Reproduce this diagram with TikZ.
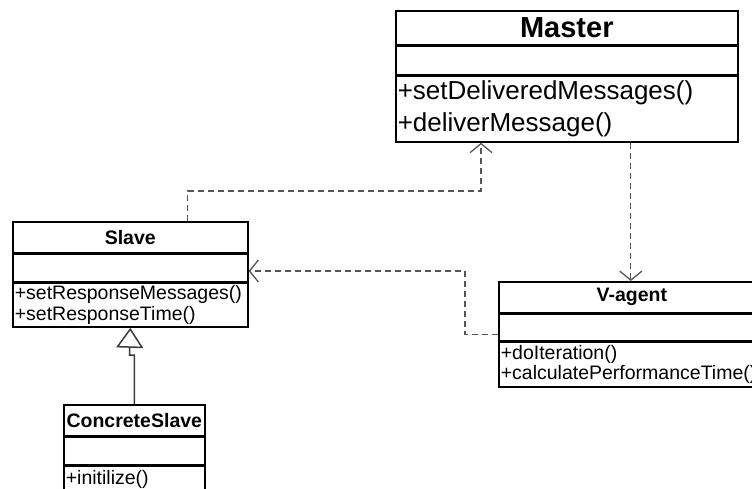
\documentclass[tikz,border=0pt]{standalone}
\usepackage{fontspec}
\setmainfont{Liberation Sans}
\usetikzlibrary{arrows.meta,positioning}
\definecolor{umlLine}{HTML}{555555}

\begin{document}
\begin{tikzpicture}[x=1pt,y=-1pt,>={Straight Barb[length=9pt,width=22pt]},
  part/.style={draw,line width=1.6pt,inner sep=0pt,anchor=north west},
  small/.style={font=\fontsize{19.5}{20.5}\selectfont},
  ttl/.style={part,font=\bfseries\fontsize{19.5}{20.5}\selectfont},
  ops/.style={part,inner xsep=2pt,align=left},
  dep/.style={->,dash pattern=on 6pt off 4pt,line width=1.3pt,umlLine},
  gen/.style={-{Triangle[open,length=20pt,width=27pt,line width=1.5pt]},line width=1.5pt,umlLine!70!black}]
\useasboundingbox (0,0) rectangle (752,489);

% Master
\node[part,font=\bfseries\fontsize{29}{30}\selectfont,minimum width=342pt,minimum height=34pt] (masterTitle) at (395,10) {Master};
\node[part,minimum width=342pt,minimum height=28pt] (masterAttr) at (masterTitle.south west) {};
\node[ops,font=\fontsize{26}{32}\selectfont,text width=338pt,minimum height=66pt] (masterOps) at (masterAttr.south west) {+setDeliveredMessages()\\+deliverMessage()};

% Slave
\node[ttl,minimum width=235pt,minimum height=31pt] (slaveTitle) at (12,221) {Slave};
\node[part,minimum width=235pt,minimum height=27pt] (slaveAttr) at (slaveTitle.south west) {};
\node[ops,small,text width=231pt,minimum height=44pt] (slaveOps) at (slaveAttr.south west) {+setResponseMessages()\\+setResponseTime()};

% V-agent
\node[ttl,minimum width=266pt,minimum height=31pt] (vagentTitle) at (498,281) {V-agent};
\node[part,minimum width=266pt,minimum height=26pt] (vagentAttr) at (vagentTitle.south west) {};
\node[ops,small,text width=262pt,minimum height=45pt] (vagentOps) at (vagentAttr.south west) {+doIteration()\\+calculatePerformanceTime()};

% ConcreteSlave
\node[ttl,minimum width=141pt,minimum height=31pt] (cslaveTitle) at (63,404) {ConcreteSlave};
\node[part,minimum width=141pt,minimum height=27pt] (cslaveAttr) at (cslaveTitle.south west) {};
\node[ops,small,text width=137pt,minimum height=40pt,text height=15pt,text depth=19pt] (cslaveOps) at (cslaveAttr.south west) {+initilize()};

% connectors
\coordinate (bendA) at (481,191);
\coordinate (bendB) at (465,271);
\coordinate (kink) at (129.5,355);
\draw[dep] ([xshift=57.5pt]slaveTitle.north) |- (bendA) -- (bendA |- masterOps.south);
\draw[dep] ([xshift=64pt]masterOps.south) -- ([xshift=64pt]masterOps.south |- vagentTitle.north);
\draw[dep] ([yshift=-7pt]vagentAttr.west) -| (bendB) -- (bendB -| slaveAttr.east);
\draw[gen] (cslaveTitle.north) |- (kink) -- (slaveOps.south);
\end{tikzpicture}
\end{document}
